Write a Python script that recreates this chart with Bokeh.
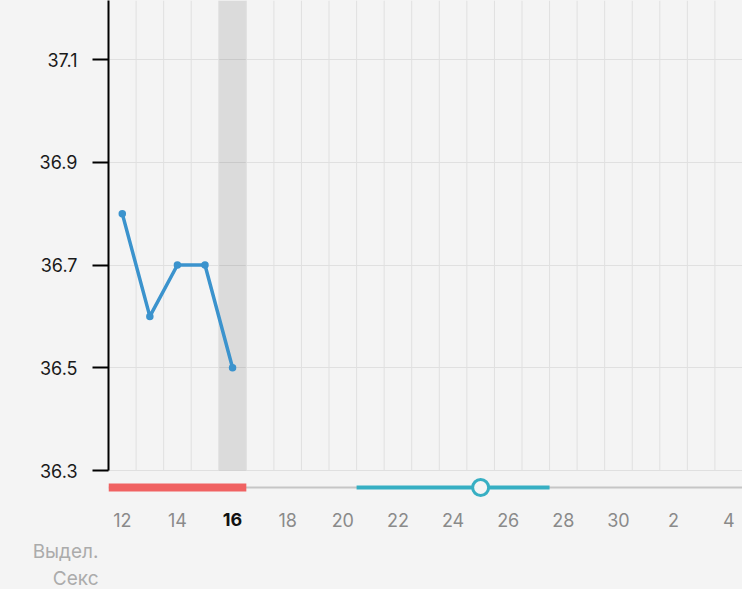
from bokeh.plotting import figure
from bokeh.layouts import column
from bokeh.models import Range1d, FixedTicker, Grid, BoxAnnotation, ColumnDataSource
from bokeh.core.properties import value
from bokeh.embed import file_html
from bokeh.resources import INLINE

# ---------------- data ----------------
cycle_days = [12, 13, 14, 15, 16, 17, 18, 19, 20, 21, 22, 23, 24, 25, 26, 27, 28, 29, 30, 1, 2, 3, 4]
temp_days = [12, 13, 14, 15, 16]
temps = [36.8, 36.6, 36.7, 36.7, 36.5]
period_days = [12, 16]          # first / last day of period
fertile_days = [21, 27]         # first / last fertile day
ovulation_day = 25
today = 16
y_ticks = [36.3, 36.5, 36.7, 36.9, 37.1]
row_labels = ["Выдел.", "Секс"]

# ---------------- helpers ----------------
idx = {d: i for i, d in enumerate(cycle_days)}
X_END = 23.0
Y_MIN, Y_END = 36.3, 37.215
BG = "#f4f4f4"
GRID = "#e0e0e0"
FONT = "Inter"
LEFT = 108
W = 742
PLOT_PX = 470          # height of the temperature area
TOP_H = 500            # temperature area + timeline track
BOT_H = 589 - TOP_H
px_per_deg = PLOT_PX / (Y_END - Y_MIN)
Y_START = Y_MIN - (TOP_H - PLOT_PX) / px_per_deg

# ---------------- main chart ----------------
p = figure(width=W, height=TOP_H, output_backend="svg", toolbar_location=None,
           x_range=Range1d(0, X_END), y_range=Range1d(Y_START, Y_END),
           x_axis_location=None, min_border_left=LEFT, min_border_right=0,
           min_border_top=0, min_border_bottom=0)
p.background_fill_color = BG
p.border_fill_color = BG
p.outline_line_color = None
p.center = [c for c in p.center if not isinstance(c, Grid)]
p.extra_y_ranges = {"track": Range1d(TOP_H, 0)}

p.add_layout(Grid(dimension=1, ticker=FixedTicker(ticks=y_ticks),
                  grid_line_color=GRID, grid_line_width=1))
p.add_layout(BoxAnnotation(left=idx[today], right=idx[today] + 1, bottom=Y_MIN,
                           fill_color="black", fill_alpha=0.1, line_color=None,
                           level="underlay"))
gx = list(range(1, len(cycle_days) + 1))
p.segment(x0=gx, y0=[Y_MIN] * len(gx), x1=gx, y1=[Y_END] * len(gx),
          line_color=GRID, line_width=1)

ax = p.yaxis[0]
ax.bounds = (Y_MIN, Y_END)
ax.ticker = FixedTicker(ticks=y_ticks)
ax.axis_line_color = "black"
ax.axis_line_width = 2
ax.major_tick_line_color = "black"
ax.major_tick_line_width = 2
ax.major_tick_out = 16
ax.major_tick_in = 0
ax.minor_tick_line_color = None
ax.major_label_standoff = 15
ax.major_label_text_font = FONT
ax.major_label_text_font_size = "18px"
ax.major_label_text_color = "#1a1a1a"

tx = [idx[d] + 0.5 for d in temp_days]
p.line(tx, temps, line_color="#3b93cd", line_width=3.5)
p.scatter(tx, temps, size=7.5, fill_color="#3b93cd", line_color=None)

# timeline track
ROW_BAR = 487
p.segment(x0=[0], y0=[ROW_BAR], x1=[X_END], y1=[ROW_BAR], line_color="#c6c6c6",
          line_width=2, y_range_name="track")
p.segment(x0=[idx[period_days[0]]], y0=[ROW_BAR], x1=[idx[period_days[1]] + 1], y1=[ROW_BAR],
          line_color="#f06262", line_width=8, line_cap="butt", y_range_name="track")
p.segment(x0=[idx[fertile_days[0]]], y0=[ROW_BAR], x1=[idx[fertile_days[1]] + 1], y1=[ROW_BAR],
          line_color="#37afc3", line_width=4, line_cap="butt", y_range_name="track")
p.scatter([idx[ovulation_day] + 0.5], [ROW_BAR], size=16, fill_color=BG,
          line_color="#37afc3", line_width=3, y_range_name="track")

# ---------------- labels ----------------
ROW_TICK, ROW_L1, ROW_L2 = 519, 551, 581

b = figure(width=W, height=BOT_H, output_backend="svg", toolbar_location=None,
           x_range=p.x_range, y_range=Range1d(589, TOP_H),
           x_axis_location=None, y_axis_location="left",
           min_border_left=LEFT, min_border_right=0, min_border_top=0, min_border_bottom=0)
b.background_fill_color = BG
b.border_fill_color = BG
b.outline_line_color = None
b.grid.visible = False

bax = b.yaxis[0]
bax.ticker = FixedTicker(ticks=[ROW_L1, ROW_L2])
bax.major_label_overrides = {ROW_L1: row_labels[0], ROW_L2: row_labels[1]}
bax.axis_line_color = None
bax.major_tick_line_color = None
bax.minor_tick_line_color = None
bax.major_tick_out = 0
bax.major_tick_in = 0
bax.major_label_standoff = 10
bax.major_label_text_font = FONT
bax.major_label_text_font_size = "19px"
bax.major_label_text_color = "#ababab"

lab_days = cycle_days[::2]
src = ColumnDataSource(dict(
    x=[idx[d] + 0.5 for d in lab_days],
    y=[ROW_TICK] * len(lab_days),
    t=[str(d) for d in lab_days],
    c=["#111111" if d == today else "#8a8a8a" for d in lab_days],
    s=["bold" if d == today else "normal" for d in lab_days],
))
b.text(x="x", y="y", text="t", source=src, text_color="c", text_font_style="s",
       text_font=value(FONT), text_font_size="18px", text_align="center",
       text_baseline="middle")

layout = column(p, b, spacing=0, styles={"background-color": BG})
open("out.html", "w").write(file_html(layout, INLINE))
